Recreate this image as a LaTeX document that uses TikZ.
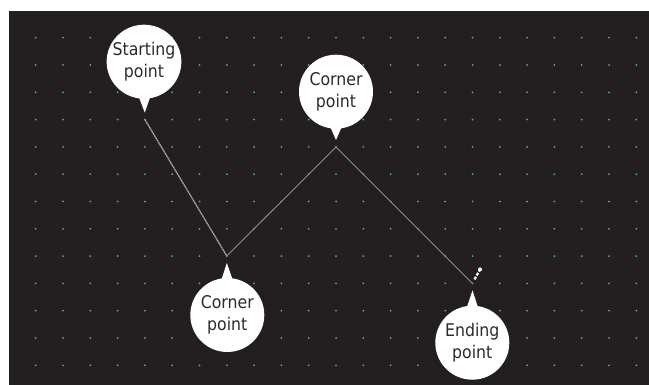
\documentclass[tikz,border=0pt]{standalone}
\usepackage{fontspec}
\setmainfont{DejaVu Sans}[FakeStretch=0.9]
\usetikzlibrary{shapes.callouts}
\definecolor{canvas}{HTML}{231F20}
\definecolor{griddot}{HTML}{4FAAB8}
\definecolor{pathgray}{HTML}{8C8C8C}
\definecolor{labeltext}{HTML}{2B2B2B}

\begin{document}
\begin{tikzpicture}[x=1pt, y=-1pt,
    bubble/.style={ellipse callout, fill=white, minimum width=74pt, minimum height=74pt,
      inner xsep=-5pt, inner ysep=0pt, align=center, text=labeltext, font=\fontsize{17.5}{22}\selectfont,
      callout pointer arc=16, callout pointer shorten=7pt},
    segment/.style={pathgray, line width=0.9pt}]

    \useasboundingbox (0,0) rectangle (649,385);
    \fill[canvas] (9,11) rectangle (649,385);

    % dot grid
    \foreach \i in {0,...,22}
      \foreach \j in {0,...,12}
        \fill[griddot] (35.7+27.3*\i, 37.7+27.3*\j) circle (1);

    % path points
    \coordinate (start) at (144.9,119.6);
    \coordinate (cornerA) at (226.8,256);
    \coordinate (cornerB) at (336,147);
    \coordinate (finish) at (472.5,283.4);

    \draw[line width=1.3pt, gray!70!white, dash pattern=on 2pt off 0.6pt] (start) -- (cornerA);
    \draw[segment] (cornerA) -- (cornerB) -- (finish);

    % pen mark
    \draw[white, line width=2.2pt, dash pattern=on 3pt off 1.5pt] (finish) ++(2,-4) -- ++(5,-9);
    \fill[white] (finish) ++(7.5,-14) circle (2);

    % callouts
    \node[bubble, callout absolute pointer={(start)}] (lblstart) at (144,61.7) {Starting\\point};
    \node[bubble, callout absolute pointer={(cornerB)}] (lblcornerB) at (336,91.7) {Corner\\point};
    \node[bubble, callout absolute pointer={(cornerA)}] (lblcornerA) at (227.3,315) {Corner\\point};
    \node[bubble, callout absolute pointer={(finish)}] (lblfinish) at (472.3,342.7) {Ending\\point};
\end{tikzpicture}
\end{document}
